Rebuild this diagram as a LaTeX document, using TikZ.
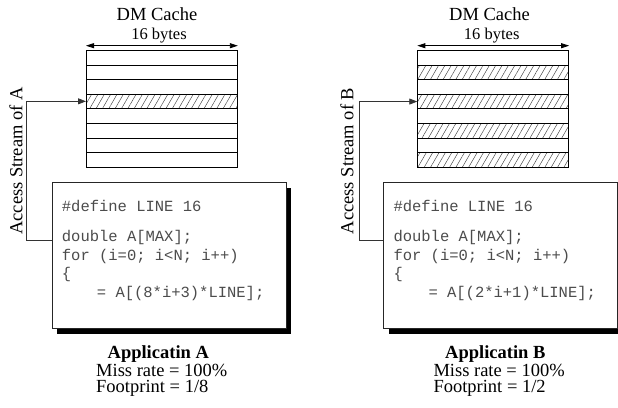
\documentclass[tikz,border=0pt]{standalone}
\usepackage{fontspec}
\setmainfont{Liberation Serif}
\setmonofont{Liberation Mono}
\usetikzlibrary{arrows.meta,positioning,patterns.meta,shadows}

\begin{document}
\begin{tikzpicture}[
    x=1pt, y=-1pt,
    >={Triangle[length=8pt,width=6pt]},
    every node/.style={inner sep=0pt, font=\fontsize{18.5}{20}\selectfont},
    slot/.style={
        draw=black, line width=0.9pt,
        minimum width=151pt, minimum height=14.6pt,
        anchor=north west
    },
    hot/.style={
        slot,
        pattern={Lines[angle=60,distance=5.5pt,line width=0.45pt]},
        pattern color=black!75
    },
    codebox/.style={
        draw=black!85, line width=0.9pt, fill=white,
        minimum width=234pt, minimum height=146pt,
        anchor=north west,
        drop shadow={shadow xshift=5pt, shadow yshift=-5pt, opacity=1, fill=black}
    },
    code/.style={
        anchor=base west, text=black!70,
        font=\fontsize{15.5}{18}\selectfont\ttfamily
    },
    small/.style={font=\fontsize{16.5}{18}\selectfont},
    link/.style={->, line width=0.8pt, black!80},
    dim/.style={<->, >={Triangle[length=8pt,width=5pt]}, line width=0.8pt}
]
    \useasboundingbox (0,0) rectangle (618,407);

    % Application A: cache with one line used
    \foreach \i/\s in {1/slot,2/slot,3/slot,4/hot,5/slot,6/slot,7/slot,8/slot}
        \node[\s] (A\i) at (86,{50+(\i-1)*14.6}) {};
    \node[anchor=base] (titleA) at (157,20.7) {DM Cache};
    \node[small, anchor=base] (sizeA) at (159,39.3) {16 bytes};
    \draw[dim] ([yshift=4.3pt]A1.north west) -- ([yshift=4.3pt]A1.north east);

    \node[codebox] (codeA) at (51.7,182.3) {};
    \node[code] (defA)  at (61.7,211.3) {\#define LINE 16};
    \node[code] (declA) at (61.7,241.7) {double A[MAX];};
    \node[code] (forA)  at (61.7,260)   {for (i=0; i<N; i++)};
    \node[code] (braA)  at (61.7,278.5) {\{};
    \node[code] (useA)  at (96.7,297)   {= A[(8*i+3)*LINE];};

    \coordinate (bendA) at (26.7,240);
    \draw[link] (codeA.west |- bendA) -- (bendA) |- (A4.west);
    \node[rotate=90] (streamA) at (16,161) {Access Stream of A};

    \node[anchor=base, font=\fontsize{18.5}{20}\selectfont\bfseries] (appA) at (158.3,358.3) {Applicatin A};
    \node[anchor=base west] (missA) at (96,376)   {Miss rate = 100\%};
    \node[anchor=base west] (footA) at (96,392.7) {Footprint = 1/8};

    % Application B: every other line used
    \foreach \i/\s in {1/slot,2/hot,3/slot,4/hot,5/slot,6/hot,7/slot,8/hot}
        \node[\s] (B\i) at (417.3,{50+(\i-1)*14.6}) {};
    \node[anchor=base] (titleB) at (489.5,20.7) {DM Cache};
    \node[small, anchor=base] (sizeB) at (491.7,39.3) {16 bytes};
    \draw[dim] ([yshift=4.3pt]B1.north west) -- ([yshift=4.3pt]B1.north east);

    \node[codebox] (codeB) at (383.3,182.3) {};
    \node[code] (defB)  at (393.3,211.3) {\#define LINE 16};
    \node[code] (declB) at (393.3,241.7) {double A[MAX];};
    \node[code] (forB)  at (393.3,260)   {for (i=0; i<N; i++)};
    \node[code] (braB)  at (393.3,278.5) {\{};
    \node[code] (useB)  at (428.3,297)   {= A[(2*i+1)*LINE];};

    \coordinate (bendB) at (359.3,240);
    \draw[link] (codeB.west |- bendB) -- (bendB) |- (B4.west);
    \node[rotate=90] (streamB) at (347,161) {Access Stream of B};

    \node[anchor=base, font=\fontsize{18.5}{20}\selectfont\bfseries] (appB) at (495.3,358.3) {Applicatin B};
    \node[anchor=base west] (missB) at (433.3,376)   {Miss rate = 100\%};
    \node[anchor=base west] (footB) at (433.3,392.7) {Footprint = 1/2};

\end{tikzpicture}
\end{document}
